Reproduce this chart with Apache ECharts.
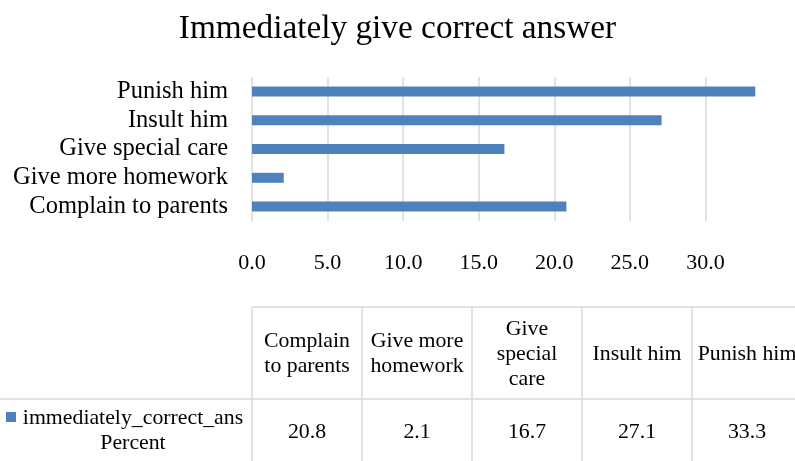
<!DOCTYPE html>
<html>
<head>
<meta charset="utf-8">
<script src="https://cdn.jsdelivr.net/npm/echarts@6/dist/echarts.min.js"></script>
<style>
html,body{margin:0;padding:0;background:#fff;}
#chart{width:795px;height:461px;}
</style>
</head>
<body>
<div id="chart"></div>
<script>
var titleText = 'Immediately give correct answer';
var categories = ['Complain to parents', 'Give more homework', 'Give special care', 'Insult him', 'Punish him'];
var tableHeaders = ['Complain\nto parents', 'Give more\nhomework', 'Give\nspecial\ncare', 'Insult him', 'Punish him'];
var values = [20.8, 2.1, 16.7, 27.1, 33.3];
var seriesName = 'immediately_correct_ans\nPercent';

var FONT = '"Liberation Serif", "Times New Roman", serif';
var BLUE = '#4f81bd';
var GRID = '#d9d9d9';

var chart = echarts.init(document.getElementById('chart'));

// table graphics
var graphics = [];
var colX0 = 252, colW = 110, headTop = 307, rowMid = 399, rowBot = 470;
graphics.push({type:'line', shape:{x1:colX0, y1:headTop, x2:800, y2:headTop}, style:{stroke:GRID, lineWidth:1.5}});
graphics.push({type:'line', shape:{x1:0, y1:rowMid, x2:800, y2:rowMid}, style:{stroke:GRID, lineWidth:1.5}});
for (var i = 0; i <= categories.length; i++) {
  var x = colX0 + i * colW;
  graphics.push({type:'line', shape:{x1:x, y1:headTop, x2:x, y2:rowBot}, style:{stroke:GRID, lineWidth:1.5}});
}
for (var j = 0; j < categories.length; j++) {
  var cx = colX0 + j * colW + colW / 2;
  graphics.push({type:'text', x:cx, y:(headTop + rowMid) / 2 + 1, style:{text:tableHeaders[j], font:'21.8px ' + FONT, fill:'#000', align:'center', verticalAlign:'middle', lineHeight:25}});
  graphics.push({type:'text', x:cx, y:432, style:{text:values[j].toFixed(1), font:'21.8px ' + FONT, fill:'#000', align:'center', verticalAlign:'middle'}});
}
graphics.push({type:'rect', shape:{x:6, y:412, width:10, height:10}, style:{fill:BLUE}});
graphics.push({type:'text', x:133, y:431, style:{text:seriesName, font:'21.8px ' + FONT, fill:'#000', align:'center', verticalAlign:'middle', lineHeight:25}});

chart.setOption({
  animation: false,
  title: {
    text: titleText,
    left: 'center',
    top: 8,
    textStyle: {fontFamily: FONT, fontSize: 33.3, fontWeight: 'normal', color: '#000'}
  },
  grid: {left: 252, right: 14, top: 77, height: 144, containLabel: false},
  xAxis: {
    type: 'value',
    min: 0,
    max: 35,
    interval: 5,
    axisLine: {show: false},
    axisTick: {show: false},
    axisLabel: {
      fontFamily: FONT, fontSize: 22, color: '#000', margin: 31,
      showMaxLabel: false,
      formatter: function (v) { return v.toFixed(1); }
    },
    splitLine: {show: true, showMaxLine: false, lineStyle: {color: GRID, width: 1.5}}
  },
  yAxis: {
    type: 'category',
    data: categories,
    axisLine: {show: false},
    axisTick: {show: false},
    axisLabel: {fontFamily: FONT, fontSize: 24.5, color: '#000', margin: 24, interval: 0, hideOverlap: false}
  },
  series: [{
    type: 'bar',
    name: seriesName,
    data: values,
    barWidth: 10,
    itemStyle: {color: BLUE}
  }],
  graphic: graphics
});
</script>
</body>
</html>
